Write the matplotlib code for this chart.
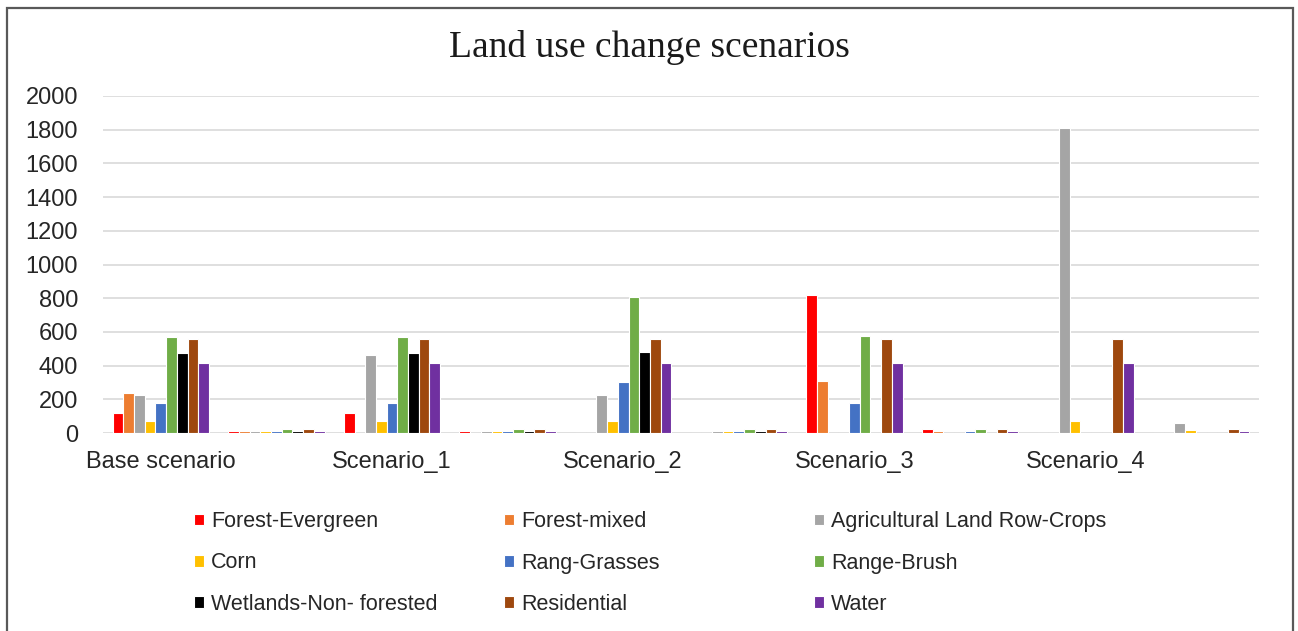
import numpy as np
import matplotlib
matplotlib.use("Agg")
import matplotlib.pyplot as plt
from matplotlib.patches import Rectangle

# ── data ──────────────────────────────────────────────────────────────────────
categories = ["Base scenario", "", "Scenario_1", "", "Scenario_2", "",
              "Scenario_3", "", "Scenario_4", ""]

forest_evergreen = [120, 12, 120, 12, 0, 0, 820, 25, 0, 0]
forest_mixed     = [240, 12, 0, 0, 0, 0, 310, 12, 0, 0]
agri_row_crops   = [225, 12, 460, 12, 225, 12, 0, 0, 1810, 60]
corn             = [70, 12, 70, 12, 70, 12, 0, 0, 70, 15]
rang_grasses     = [180, 12, 180, 12, 300, 12, 180, 12, 0, 0]
range_brush      = [570, 24, 570, 24, 805, 25, 575, 25, 0, 0]
wetlands         = [475, 12, 475, 12, 478, 12, 0, 0, 0, 0]
residential      = [560, 24, 560, 24, 560, 25, 560, 25, 560, 25]
water            = [415, 12, 415, 12, 418, 12, 418, 12, 418, 12]

series_names = ["Forest-Evergreen", "Forest-mixed", "Agricultural Land Row-Crops",
                "Corn", "Rang-Grasses", "Range-Brush",
                "Wetlands-Non- forested", "Residential", "Water"]
series_vals = [forest_evergreen, forest_mixed, agri_row_crops, corn, rang_grasses,
               range_brush, wetlands, residential, water]
COLORS = ["#FF0000", "#ED7D31", "#A5A5A5", "#FFC000", "#4472C4",
          "#70AD47", "#000000", "#9E480E", "#7030A0"]

# ── figure ────────────────────────────────────────────────────────────────────
W_PX, H_PX = 1298, 631
fig = plt.figure(figsize=(W_PX / 100, H_PX / 100), dpi=100)
ax = fig.add_axes([103 / W_PX, 1 - 433 / H_PX, (1259 - 103) / W_PX, (433 - 96) / H_PX])

x = np.arange(len(categories))
pitch = 0.0926
bars = []
for i, (name, vals, col) in enumerate(zip(series_names, series_vals, COLORS)):
    b = ax.bar(x + (i - 4) * pitch, vals, width=pitch, color=col,
               edgecolor="white", linewidth=0.8, label=name, zorder=3)
    bars.append(b)

ax.set_xlim(-0.5, len(categories) - 0.5)
ax.set_ylim(0, 2000)
ax.set_yticks(np.arange(0, 2001, 200))
ax.set_xticks(x)
ax.set_xticklabels(categories)
ax.grid(True, axis="y", color="#d9d9d9", lw=1.2, zorder=0)
ax.set_axisbelow(True)
for s in ax.spines.values():
    s.set_visible(False)
ax.tick_params(axis="both", length=0, labelsize=17, colors="#262626")
ax.tick_params(axis="y", pad=18)
ax.tick_params(axis="x", pad=13)
for lab in ax.get_xticklabels() + ax.get_yticklabels():
    lab.set_fontfamily("Liberation Sans")

fig.text(0.5, 1 - 57 / H_PX, "Land use change scenarios", ha="center", va="baseline",
         fontsize=27, family="Liberation Serif", color="#1a1a1a")

# legend: three columns, each its own legend so the columns sit at fixed x
col_x = [194, 504, 814]
for c in range(3):
    idx = [c, c + 3, c + 6]
    leg = fig.legend([bars[k] for k in idx], [series_names[k] for k in idx],
                     loc="center left", bbox_to_anchor=(col_x[c] / W_PX, 1 - 563 / H_PX),
                     frameon=False, ncol=1, borderpad=0, borderaxespad=0,
                     handlelength=0.45, handleheight=0.45, handletextpad=0.35,
                     labelspacing=0.95, prop={"family": "Liberation Sans", "size": 15.5})
    for t in leg.get_texts():
        t.set_color("#262626")

# chart border
fig.patches.append(Rectangle((7 / W_PX, -0.02), (1293 - 7) / W_PX, 1.02 - 8 / H_PX,
                             transform=fig.transFigure, fill=False,
                             edgecolor="#595959", lw=1.6))

plt.savefig("out.png", dpi=100, facecolor="white")
plt.close()
